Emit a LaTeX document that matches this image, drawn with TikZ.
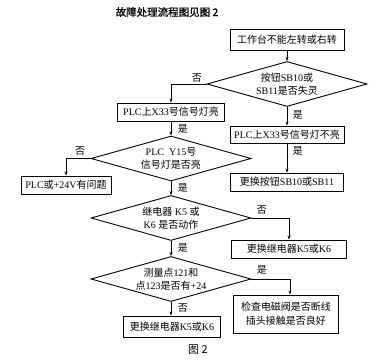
\documentclass[tikz,border=0pt]{standalone}
\usepackage{fontspec}
\setmainfont{Liberation Serif}
\newfontfamily\cjk{Noto Sans CJK SC}
\newfontfamily\cjkt[FakeBold=1.2]{Noto Sans CJK SC}
\usetikzlibrary{arrows.meta,shapes.geometric}
\newcommand\C[1]{{\cjk #1}}
\begin{document}
\begin{tikzpicture}[x=1pt,y=-1pt,
 box/.style={draw, line width=0.9pt, inner sep=0pt, minimum height=18pt, font=\fontsize{10}{12}\selectfont},
 dia/.style={draw, diamond, aspect=3.5, line width=0.9pt, inner sep=0pt, minimum width=160pt, minimum height=45pt, align=center, font=\fontsize{10}{13}\selectfont},
 arr/.style={-{Stealth[length=4pt,width=3pt]}, line width=0.6pt},
 lbl/.style={font=\cjk\fontsize{10}{12}\selectfont, inner sep=1pt}]
\useasboundingbox (0,0) rectangle (376,363);
\node[font=\cjkt\fontsize{10.5}{12}\selectfont] (title) at (167,12) {故障处理流程图见图 2};
\node[box, minimum width=114pt, minimum height=21pt] (b1) at (287,39.5) {\C{工作台不能左转或右转}};
\node[dia] (d1) at (287,84) {\C{按钮}SB10\C{或}\\SB11\C{是否失灵}};
\node[box, minimum width=107pt] (b2) at (171,112) {PLC\C{上}X33\C{号信号灯亮}};
\node[box, minimum width=114pt, minimum height=17pt] (b3) at (287,134.5) {PLC\C{上}X33\C{号信号灯不亮}};
\node[box, minimum width=113pt] (b4) at (287,182) {\C{更换按钮}SB10\C{或}SB11};
\node[dia] (d2) at (171,158.5) {PLC\ \ Y15\C{号}\\\C{信号灯是否亮}};
\node[box, minimum width=90pt] (b5) at (66,185) {PLC\C{或}+24V\C{有问题}};
\node[dia] (d3) at (171,218) {\C{继电器} K5 \C{或}\\K6 \C{是否动作}};
\node[box, minimum width=115pt] (b6) at (289,249) {\C{更换继电器}K5\C{或}K6};
\node[dia] (d4) at (171,279) {\C{测量点}121\C{和}\\\C{点}123\C{是否有}+24};
\node[box, minimum width=105pt, minimum height=38pt, align=center, font=\fontsize{10}{14}\selectfont] (b7) at (286,314) {\C{检查电磁阀是否断线}\\\C{插头接触是否良好}};
\node[box, minimum width=97pt, minimum height=21pt] (b8) at (172,326.5) {\C{更换继电器}K5\C{或}K6};
\node[font=\cjk\fontsize{11}{12}\selectfont] (cap) at (198,350) {图 2};
\draw[arr] (b1) -- (d1);
\draw[arr] (d1.west) -| (b2.north);
\draw[arr] (d1) -- (b3);
\draw[arr] (b3) -- (b4);
\draw[arr] (b2) -- (d2);
\draw[arr] (d2.west) -| (b5.north);
\draw[arr] (d2) -- (d3);
\draw[arr] (d3.east) -| (b6.north);
\draw[arr] (d3) -- (d4);
\draw[arr] (d4.east) -| ([xshift=4pt]b7.north);
\draw[arr] (d4.south) -- (d4.south |- b8.north);
\node[lbl] (l1) at (197,78) {否};
\node[lbl] (l2) at (298,115) {是};
\node[lbl] (l3) at (183,129) {是};
\node[lbl] (l4) at (80,151) {否};
\node[lbl] (l5) at (298,151) {是};
\node[lbl] (l6) at (183,188) {是};
\node[lbl] (l7) at (262,210) {否};
\node[lbl] (l8) at (183,248) {是};
\node[lbl] (l9) at (262,270) {是};
\node[lbl] (l10) at (183,308) {否};
\end{tikzpicture}
\end{document}
